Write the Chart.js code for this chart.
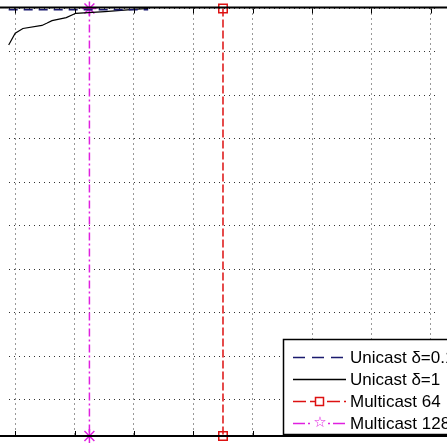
<!DOCTYPE html>
<html><head><meta charset="utf-8">
<script src="https://cdn.jsdelivr.net/npm/chart.js@4/dist/chart.umd.min.js"></script>
<style>html,body{margin:0;padding:0;background:#fff}#wrap{width:447px;height:447px}</style>
</head><body><div id="wrap"><canvas id="c"></canvas></div>
<script>
// Series values
const unicast01X = [-0.11, 2.24];
const unicast01Y = [9.97, 9.97];
const unicast1X = [-0.11, 0.0, 0.13, 0.45, 0.53, 0.62, 0.86, 1.02, 1.51, 2.0, 2.24];
const unicast1Y = [9.16, 9.43, 9.54, 9.61, 9.66, 9.72, 9.79, 9.89, 9.93, 9.98, 10];
const multi64X = [3.5, 3.5];
const multi128X = [1.25, 1.25];
const vertY = [10, 0.16];
const xTicks = [0, 1, 2, 3, 4, 5, 6, 7];
const yTicks = [1, 2, 3, 4, 5, 6, 7, 8, 9, 10];
const legendLabels = ['Unicast δ=0.1', 'Unicast δ=1', 'Multicast 64', 'Multicast 128'];

const pts = (xs, ys) => xs.map((x, i) => ({x, y: ys[i]}));

// frame, inner tick marks and legend drawn on top
const framePlugin = {
  id: 'frame',
  afterDraw(chart) {
    const {ctx, chartArea: a, scales} = chart;
    ctx.save();
    ctx.strokeStyle = '#000';
    ctx.lineWidth = 2;
    ctx.beginPath();
    ctx.moveTo(0, a.top - 1); ctx.lineTo(447, a.top - 1);
    ctx.moveTo(0, a.bottom); ctx.lineTo(447, a.bottom);
    ctx.stroke();
    ctx.lineWidth = 1;
    ctx.beginPath();
    xTicks.forEach(t => {
      const x = Math.round(scales.x.getPixelForValue(t)) + 0.5;
      ctx.moveTo(x, a.top); ctx.lineTo(x, a.top + 5);
      ctx.moveTo(x, a.bottom); ctx.lineTo(x, a.bottom - 5);
    });
    ctx.stroke();

    // legend
    const lx = 283, ly = 339, lh = 95;
    ctx.fillStyle = '#fff';
    ctx.fillRect(lx, ly, 200, lh);
    ctx.lineWidth = 1.5;
    ctx.strokeRect(lx + 0.5, ly + 0.5, 200, lh);
    ctx.font = '17px "Liberation Sans", Arial, sans-serif';
    ctx.textBaseline = 'middle';
    const rows = [357, 379, 401, 423];
    const styles = [
      {c: '#1a1a6e', d: [12, 7]}, {c: '#000', d: []},
      {c: '#d11', d: [13, 4]}, {c: '#e020e0', d: [12, 3, 2, 3]}
    ];
    rows.forEach((y, i) => {
      ctx.strokeStyle = styles[i].c;
      ctx.lineWidth = 1.5;
      ctx.setLineDash(styles[i].d);
      ctx.beginPath(); ctx.moveTo(293, y + 0.5); ctx.lineTo(346, y + 0.5); ctx.stroke();
      ctx.setLineDash([]);
      if (i === 2) { ctx.fillStyle = '#fff'; ctx.fillRect(315, y - 4, 9, 9); ctx.strokeRect(315.5, y - 3.5, 8, 8); }
      if (i === 3) {
        ctx.fillStyle = '#fff'; ctx.fillRect(313, y - 6, 14, 12);
        ctx.fillStyle = '#e020e0';
        ctx.font = '15px "DejaVu Sans"';
        ctx.textAlign = 'center';
        ctx.fillText('☆', 320, y);
        ctx.textAlign = 'left';
        ctx.font = '17px "Liberation Sans", Arial, sans-serif';
      }
      ctx.fillStyle = '#000';
      ctx.fillText(legendLabels[i], 350, y + 1);
    });
    ctx.restore();
  }
};

const grid = {color: '#333', lineWidth: 1, drawTicks: false};
const dotted = {display: false, dash: [1, 4]};

new Chart(document.getElementById('c'), {
  type: 'scatter',
  data: {
    datasets: [
      {label: legendLabels[0], data: pts(unicast01X, unicast01Y), showLine: true,
       borderColor: '#1a1a6e', borderDash: [9, 6], borderWidth: 1.5, pointRadius: 0},
      {label: legendLabels[1], data: pts(unicast1X, unicast1Y), showLine: true,
       borderColor: '#000', borderWidth: 1.2, pointRadius: 0, tension: 0},
      {label: legendLabels[2], data: pts(multi64X, vertY), showLine: true,
       borderColor: '#d11', borderDash: [8, 3], borderWidth: 1.5, pointStyle: 'rect',
       pointRadius: 6, pointBorderColor: '#d11', pointBorderWidth: 1.5, pointBackgroundColor: 'rgba(0,0,0,0)'},
      {label: legendLabels[3], data: pts(multi128X, vertY), showLine: true,
       borderColor: '#e020e0', borderDash: [8, 3, 2, 3], borderWidth: 1.5, pointStyle: 'star',
       pointRadius: 7, pointBorderColor: '#e020e0', pointBorderWidth: 1.5, pointBackgroundColor: 'rgba(0,0,0,0)'}
    ]
  },
  options: {
    responsive: true, maintainAspectRatio: false, animation: false,
    layout: {padding: {top: 5, bottom: 11, left: 0, right: 0}},
    clip: false,
    plugins: {legend: {display: false}, tooltip: {enabled: false}},
    scales: {
      x: {type: 'linear', min: -0.113, max: 7.13, border: dotted,
          grid: {...grid}, ticks: {display: false},
          afterBuildTicks: s => { s.ticks = xTicks.map(v => ({value: v})); }},
      y: {type: 'linear', min: 0.16, max: 10, border: dotted,
          grid: {...grid}, ticks: {display: false},
          afterBuildTicks: s => { s.ticks = yTicks.map(v => ({value: v})); }}
    }
  },
  plugins: [framePlugin]
});
</script></body></html>
